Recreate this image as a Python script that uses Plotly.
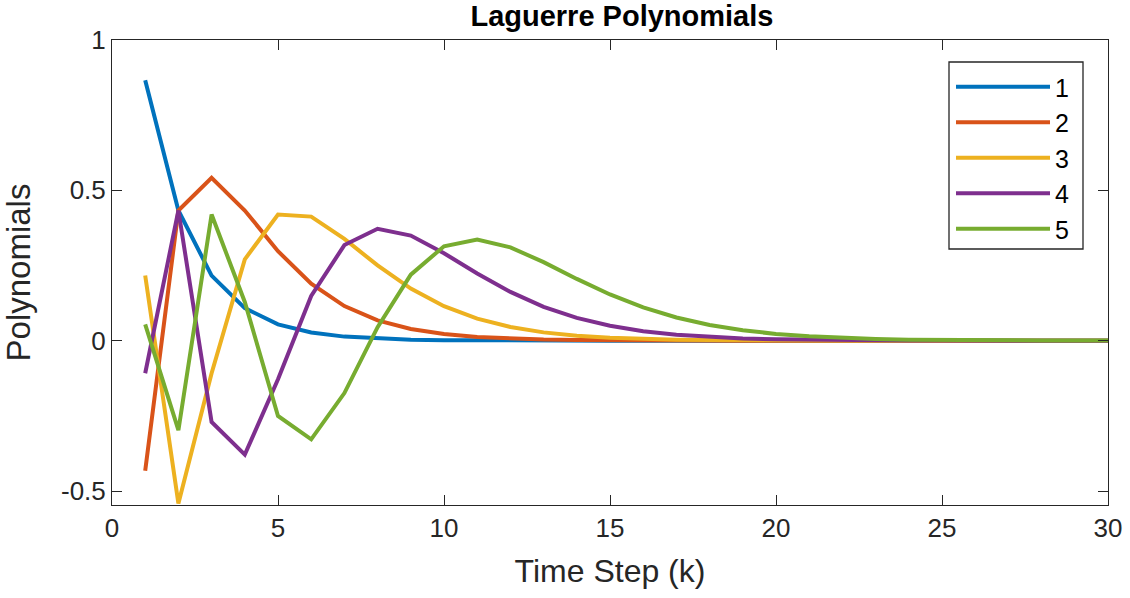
import plotly.graph_objects as go

k = list(range(1, 31))
names = ["1", "2", "3", "4", "5"]
colors = ["#0072BD", "#D95319", "#EDB120", "#7E2F8E", "#77AC30"]

l1 = [0.8660, 0.4330, 0.2165, 0.1083, 0.0541, 0.0271, 0.0135, 0.0068, 0.0034, 0.0017,
      0.0008, 0.0004, 0.0002, 0.0001, 0.0001, 0.0, 0.0, 0.0, 0.0, 0.0,
      0.0, 0.0, 0.0, 0.0, 0.0, 0.0, 0.0, 0.0, 0.0, 0.0]
l2 = [-0.4330, 0.4330, 0.5413, 0.4330, 0.2977, 0.1894, 0.1150, 0.0677, 0.0389, 0.0220,
      0.0123, 0.0068, 0.0037, 0.0020, 0.0011, 0.0006, 0.0003, 0.0002, 0.0001, 0.0,
      0.0, 0.0, 0.0, 0.0, 0.0, 0.0, 0.0, 0.0, 0.0, 0.0]
l3 = [0.2165, -0.5413, -0.1083, 0.2706, 0.4195, 0.4127, 0.3383, 0.2503, 0.1734, 0.1146,
      0.0732, 0.0455, 0.0276, 0.0165, 0.0097, 0.0057, 0.0033, 0.0019, 0.0011, 0.0006,
      0.0003, 0.0002, 0.0001, 0.0001, 0.0, 0.0, 0.0, 0.0, 0.0, 0.0]
l4 = [-0.1083, 0.4330, -0.2706, -0.3789, -0.1286, 0.1488, 0.3180, 0.3721, 0.3497, 0.2909,
      0.2235, 0.1622, 0.1127, 0.0757, 0.0495, 0.0317, 0.0199, 0.0123, 0.0075, 0.0045,
      0.0027, 0.0016, 0.0009, 0.0005, 0.0003, 0.0002, 0.0001, 0.0001, 0.0, 0.0]
l5 = [0.0541, -0.2977, 0.4195, 0.1286, -0.2503, -0.3281, -0.1742, 0.0448, 0.2197, 0.3141,
      0.3362, 0.3105, 0.2611, 0.2054, 0.1537, 0.1105, 0.0770, 0.0522, 0.0346, 0.0225,
      0.0144, 0.0091, 0.0057, 0.0035, 0.0021, 0.0013, 0.0008, 0.0005, 0.0003, 0.0002]
series = [l1, l2, l3, l4, l5]

x_ticks = [0, 5, 10, 15, 20, 25, 30]
y_ticks = [-0.5, 0, 0.5, 1]
y_tick_text = ["-0.5", "0", "0.5", "1"]

FONT = "Liberation Sans, Arial, sans-serif"
AX = "#262626"

W, H = 1130, 598
ML, MR, MT, MB = 112, 22, 40, 93
PW, PH = W - ML - MR, H - MT - MB


def px_x(p):
    return (p - ML) / PW


def px_y(p):
    return (H - MB - p) / PH


fig = go.Figure()
for name, col, ys in zip(names, colors, series):
    fig.add_trace(go.Scatter(x=k, y=ys, mode="lines", name=name,
                             line=dict(color=col, width=4)))

axis_common = dict(showline=True, linecolor=AX, linewidth=1, mirror="ticks",
                   ticks="inside", ticklen=10, tickwidth=1, tickcolor=AX,
                   showgrid=False, zeroline=False, automargin=False,
                   tickfont=dict(family=FONT, size=26, color=AX))

# legend frame (wider than plotly's auto-sized box, like the reference)
fig.add_shape(type="rect", xref="paper", yref="paper",
              x0=px_x(949), x1=px_x(1083), y0=px_y(249), y1=px_y(62),
              line=dict(color=AX, width=1.3), fillcolor="white", layer="above")

fig.update_layout(
    width=W, height=H, autosize=False,
    paper_bgcolor="white", plot_bgcolor="white",
    margin=dict(l=ML, r=MR, t=MT, b=MB, autoexpand=False),
    title=dict(text="<b>Laguerre Polynomials</b>", x=0.5504, xanchor="center",
               y=0.973, yanchor="middle", automargin=False,
               font=dict(family=FONT, size=29, color="black")),
    xaxis=dict(range=[0, 30], tickvals=x_ticks, ticktext=[str(t) for t in x_ticks],
               title=dict(text="Time Step (k)", standoff=17,
                          font=dict(family=FONT, size=32, color=AX)),
               **axis_common),
    yaxis=dict(range=[-0.5465, 1], tickvals=y_ticks, ticktext=y_tick_text,
               title=dict(text="Polynomials", standoff=22,
                          font=dict(family=FONT, size=33, color=AX)),
               **axis_common),
    legend=dict(x=px_x(951), y=px_y(64), xanchor="left", yanchor="top",
                bgcolor="rgba(0,0,0,0)", borderwidth=0,
                font=dict(family=FONT, size=25, color="black"),
                itemwidth=94, tracegroupgap=0),
    showlegend=True,
)

fig.write_html("out.html")
